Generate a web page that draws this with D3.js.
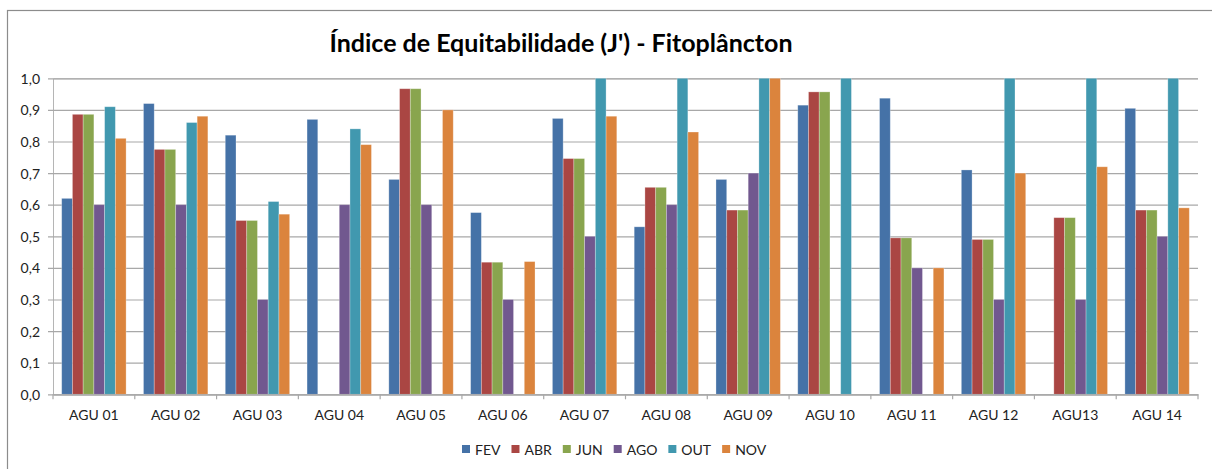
<!DOCTYPE html>
<html>
<head>
<meta charset="utf-8">
<script src="https://cdn.jsdelivr.net/npm/d3@7"></script>
<style>
  html, body { margin: 0; padding: 0; background: #fff; }
  svg { display: block; }
  text { font-family: Lato, "Open Sans", sans-serif; }
</style>
</head>
<body>
<svg id="chart" width="1212" height="469"></svg>
<script>
// Sampling points and campaigns
const stations = ["AGU 01", "AGU 02", "AGU 03", "AGU 04", "AGU 05", "AGU 06", "AGU 07",
                  "AGU 08", "AGU 09", "AGU 10", "AGU 11", "AGU 12", "AGU13", "AGU 14"];
const months = ["FEV", "ABR", "JUN", "AGO", "OUT", "NOV"];

// Evenness index J' per campaign (null = no value)
const fev = [0.62, 0.92, 0.82, 0.87, 0.68, 0.575, 0.873, 0.53, 0.68, 0.915, 0.937, 0.71, null, 0.905];
const abr = [0.886, 0.775, 0.55, null, 0.967, 0.418, 0.746, 0.655, 0.583, 0.957, 0.495, 0.49, 0.559, 0.583];
const jun = [0.886, 0.775, 0.55, null, 0.967, 0.418, 0.746, 0.655, 0.583, 0.957, 0.495, 0.49, 0.559, 0.583];
const ago = [0.60, 0.60, 0.30, 0.60, 0.60, 0.30, 0.50, 0.60, 0.70, null, 0.40, 0.30, 0.30, 0.50];
const out = [0.91, 0.86, 0.61, 0.84, null, null, 1.0, 1.0, 1.0, 1.0, null, 1.0, 1.0, 1.0];
const nov = [0.81, 0.88, 0.57, 0.79, 0.90, 0.42, 0.88, 0.83, 1.0, null, 0.40, 0.70, 0.72, 0.59];

const yTicks = [0, 0.1, 0.2, 0.3, 0.4, 0.5, 0.6, 0.7, 0.8, 0.9, 1.0];
const colors = ["#4572A7", "#AA4643", "#89A54E", "#71588F", "#4198AF", "#DB843D"];

const seriesValues = [fev, abr, jun, ago, out, nov];
const svg = d3.select("#chart");

// Outer chart frame
svg.append("rect")
  .attr("x", 7.5).attr("y", 10.5)
  .attr("width", 1240).attr("height", 480)
  .attr("fill", "#fff").attr("stroke", "#8c8c8c").attr("stroke-width", 1.2);

const plot = { left: 53, right: 1198, top: 78.3, bottom: 394.3 };

const x0 = d3.scaleBand().domain(stations).range([plot.left, plot.right]).paddingInner(0).paddingOuter(0);
const x1 = d3.scaleBand().domain(months).range([0, x0.bandwidth()]).paddingInner(0).paddingOuter(0.81);
const y = d3.scaleLinear().domain([0, 1]).range([plot.bottom, plot.top]);
const color = d3.scaleOrdinal().domain(months).range(colors);

// Horizontal gridlines and y axis
const yAxis = d3.axisLeft(y)
  .tickValues(yTicks)
  .tickSize(-(plot.right - plot.left))
  .tickFormat(d => d3.format(".1f")(d).replace(".", ","));

const gy = svg.append("g").attr("transform", `translate(${plot.left},0)`).call(yAxis);
gy.select(".domain").attr("stroke", "#b5b5b5");
gy.selectAll(".tick line").attr("stroke", "#a8a8a8").attr("stroke-width", 1.2).attr("x1", -5);
gy.selectAll(".tick text")
  .attr("x", -13).attr("dy", "0.35em")
  .attr("fill", "#222").style("font-size", "14px");

// Bars
const groups = svg.append("g").selectAll("g")
  .data(stations)
  .join("g")
  .attr("transform", d => `translate(${x0(d)},0)`);

groups.selectAll("rect")
  .data((st, i) => months.map((m, k) => ({ month: m, value: seriesValues[k][i] })).filter(d => d.value != null))
  .join("rect")
  .attr("x", d => x1(d.month))
  .attr("width", x1.bandwidth())
  .attr("y", d => y(d.value))
  .attr("height", d => y(0) - y(d.value))
  .attr("fill", d => color(d.month))
  .attr("stroke", "rgba(255,255,255,0.35)")
  .attr("stroke-width", 0.8);

// Category axis
const xAxis = d3.axisBottom(x0).tickSize(0);
const gx = svg.append("g").attr("transform", `translate(0,${plot.bottom})`).call(xAxis);
gx.select(".domain").attr("stroke", "#a8a8a8").attr("stroke-width", 1.2);
gx.selectAll(".tick text")
  .attr("y", 21).attr("dy", "0.35em")
  .attr("fill", "#222").style("font-size", "14px");

// Tick marks between categories
const boundaries = d3.range(stations.length + 1).map(i => plot.left + i * x0.step());
gx.selectAll(".sep")
  .data(boundaries)
  .join("line")
  .attr("class", "sep")
  .attr("x1", d => d).attr("x2", d => d)
  .attr("y1", 0).attr("y2", 5)
  .attr("stroke", "#a8a8a8").attr("stroke-width", 1.2);

// Title
svg.append("text")
  .attr("x", 561).attr("y", 52)
  .attr("text-anchor", "middle")
  .attr("fill", "#000")
  .style("font-size", "25px").style("font-weight", "bold")
  .text("Índice de Equitabilidade (J') - Fitoplâncton");

// Legend
const legend = svg.append("g").attr("transform", "translate(0,455)");
let lx = 462;
months.forEach(m => {
  const item = legend.append("g").attr("transform", `translate(${lx},0)`);
  item.append("rect").attr("x", 0).attr("y", -10).attr("width", 8).attr("height", 8).attr("fill", color(m));
  const t = item.append("text").attr("x", 13).attr("y", 0)
    .attr("fill", "#222").style("font-size", "14px").text(m);
  lx += 13 + t.node().getComputedTextLength() + 11;
});
</script>
</body>
</html>
